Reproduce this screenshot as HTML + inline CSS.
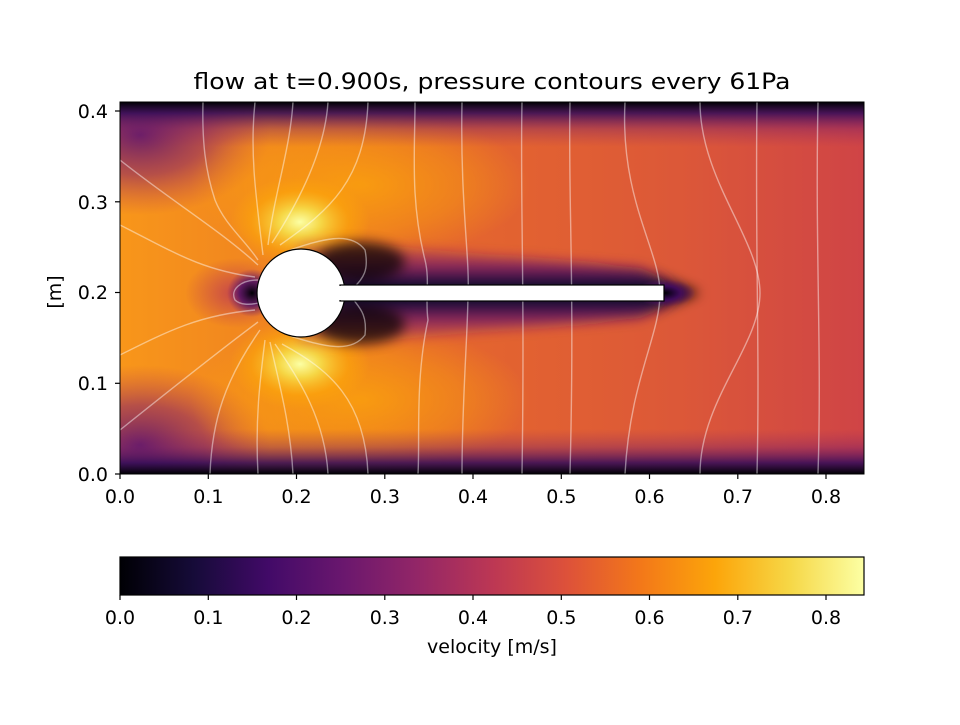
<!DOCTYPE html>
<html><head><style>
body{margin:0;background:#fff;width:960px;height:720px;overflow:hidden}
</style></head><body>
<svg width="960" height="720" xmlns="http://www.w3.org/2000/svg" font-family="DejaVu Sans, Liberation Sans, sans-serif" font-size="19">
<defs>
<clipPath id="pc"><rect x="120" y="102" width="744" height="372"/></clipPath>
<linearGradient id="bg" x1="0" x2="1" y1="0" y2="0">
<stop offset="0" stop-color="#f8961a"/><stop offset="0.2" stop-color="#f08420"/>
<stop offset="0.4" stop-color="#e6682c"/><stop offset="0.75" stop-color="#dc5838"/><stop offset="1" stop-color="#cf4446"/>
</linearGradient>
<linearGradient id="top" x1="0" x2="0" y1="0" y2="1">
<stop offset="0" stop-color="#000004"/><stop offset="0.25" stop-color="#300a5a" stop-opacity="0.85"/><stop offset="0.6" stop-color="#6a176e" stop-opacity="0.35"/><stop offset="1" stop-color="#932667" stop-opacity="0"/>
</linearGradient>
<linearGradient id="bot" x1="0" x2="0" y1="1" y2="0">
<stop offset="0" stop-color="#000004"/><stop offset="0.25" stop-color="#300a5a" stop-opacity="0.85"/><stop offset="0.6" stop-color="#6a176e" stop-opacity="0.35"/><stop offset="1" stop-color="#932667" stop-opacity="0"/>
</linearGradient>
<radialGradient id="yel"><stop offset="0" stop-color="#fcffa4"/><stop offset="0.3" stop-color="#f6d746"/><stop offset="0.7" stop-color="#fca50a" stop-opacity="0.6"/><stop offset="1" stop-color="#fca50a" stop-opacity="0"/></radialGradient>
<radialGradient id="org"><stop offset="0" stop-color="#fca50a" stop-opacity="0.8"/><stop offset="0.6" stop-color="#fca50a" stop-opacity="0.4"/><stop offset="1" stop-color="#fca50a" stop-opacity="0"/></radialGradient>
<radialGradient id="pur"><stop offset="0" stop-color="#5a1270" stop-opacity="0.9"/><stop offset="0.5" stop-color="#8a2266" stop-opacity="0.6"/><stop offset="1" stop-color="#bc3754" stop-opacity="0"/></radialGradient>
<radialGradient id="red"><stop offset="0" stop-color="#bc3754" stop-opacity="0.8"/><stop offset="1" stop-color="#bc3754" stop-opacity="0"/></radialGradient>
<radialGradient id="dk"><stop offset="0" stop-color="#000004"/><stop offset="0.5" stop-color="#420a68" stop-opacity="0.8"/><stop offset="1" stop-color="#6a176e" stop-opacity="0"/></radialGradient>
<linearGradient id="wake" x1="0" x2="0" y1="0" y2="1">
<stop offset="0" stop-color="#932667" stop-opacity="0"/><stop offset="0.25" stop-color="#6a176e" stop-opacity="0.7"/><stop offset="0.4" stop-color="#1a0b3c"/><stop offset="0.5" stop-color="#000004"/><stop offset="0.6" stop-color="#1a0b3c"/><stop offset="0.75" stop-color="#6a176e" stop-opacity="0.7"/><stop offset="1" stop-color="#932667" stop-opacity="0"/>
</linearGradient>
<filter id="bl2" filterUnits="userSpaceOnUse" x="100" y="100" width="800" height="400"><feGaussianBlur stdDeviation="6"/></filter>
<linearGradient id="cb" x1="0" x2="1">
<stop offset="0" stop-color="#000004"/><stop offset="0.1" stop-color="#160b39"/><stop offset="0.2" stop-color="#420a68"/><stop offset="0.3" stop-color="#6a176e"/><stop offset="0.4" stop-color="#932667"/><stop offset="0.5" stop-color="#bc3754"/><stop offset="0.6" stop-color="#dd513a"/><stop offset="0.7" stop-color="#f37819"/><stop offset="0.8" stop-color="#fca50a"/><stop offset="0.9" stop-color="#f6d746"/><stop offset="1" stop-color="#fcffa4"/>
</linearGradient>
</defs>
<text x="492" y="89" text-anchor="middle" font-size="22.5" textLength="597" lengthAdjust="spacingAndGlyphs">flow at t=0.900s, pressure contours every 61Pa</text>
<g clip-path="url(#pc)">
<rect x="120" y="102" width="744" height="372" fill="url(#bg)"/>
<ellipse cx="140" cy="135" rx="130" ry="80" fill="url(#pur)"/>
<ellipse cx="140" cy="445" rx="130" ry="80" fill="url(#pur)"/>
<ellipse cx="360" cy="185" rx="170" ry="75" fill="url(#org)"/>
<ellipse cx="360" cy="400" rx="170" ry="75" fill="url(#org)"/>
<rect x="120" y="102" width="744" height="45" fill="url(#top)"/>
<rect x="120" y="429" width="744" height="45" fill="url(#bot)"/>
<ellipse cx="300" cy="222" rx="70" ry="45" fill="url(#yel)"/>
<ellipse cx="300" cy="364" rx="70" ry="45" fill="url(#yel)"/>
<ellipse cx="235" cy="293" rx="50" ry="35" fill="url(#red)"/>
<ellipse cx="252" cy="293" rx="25" ry="24" fill="url(#dk)"/>
<path d="M300 238 C360 238 400 250 520 258 L640 268 L700 293 L640 318 L520 328 C400 336 360 348 300 348 Z" fill="url(#wake)" filter="url(#bl2)"/>
<ellipse cx="360" cy="262" rx="45" ry="20" fill="#000004" opacity="0.7" filter="url(#bl2)"/>
<ellipse cx="360" cy="324" rx="45" ry="20" fill="#000004" opacity="0.7" filter="url(#bl2)"/>
<ellipse cx="665" cy="293" rx="30" ry="14" fill="url(#dk)"/>
<g fill="none" stroke="#fff" stroke-opacity="0.45" stroke-width="1.4">
<path d="M203 102 C202 140 205 170 215 200 C225 225 245 240 258 260"/>
<path d="M255 102 C250 150 255 190 263 255"/>
<path d="M293 102 C290 150 275 190 268 245"/>
<path d="M328 102 C325 150 300 200 272 243"/>
<path d="M368 102 C365 180 330 210 280 245"/>
<path d="M415 102 C415 150 410 200 425 260 C430 280 425 300 428 320 C415 380 420 440 418 474"/>
<path d="M462 102 C460 200 470 260 468 293 C468 330 462 400 462 474"/>
<path d="M522 102 C520 200 525 280 522 474"/>
<path d="M570 102 C568 200 575 280 570 474"/>
<path d="M625 102 C620 200 660 250 660 293 C660 336 630 380 625 474"/>
<path d="M700 102 C700 180 760 240 760 293 C760 346 700 400 700 474"/>
<path d="M757 102 C755 250 760 350 757 474"/>
<path d="M818 102 C815 250 822 350 818 474"/>
<path d="M120 160 C170 200 220 230 258 265"/>
<path d="M120 225 C170 250 200 270 255 277"/>
<path d="M120 355 C170 330 200 315 255 310"/>
<path d="M120 430 C170 390 220 350 258 322"/>
<path d="M258 280 C240 280 230 290 235 300 C240 305 250 305 258 303"/>
<path d="M290 250 C320 240 350 230 365 250 C370 275 360 280 350 292"/>
<path d="M290 336 C320 345 350 355 365 335 C368 310 355 305 350 294"/>
<path d="M210 474 C212 420 225 380 260 330"/>
<path d="M258 474 C255 420 260 380 265 340"/>
<path d="M293 474 C290 420 278 380 270 342"/>
<path d="M328 474 C325 420 300 380 275 344"/>
<path d="M368 474 C365 400 330 370 282 344"/>
</g>
<circle cx="301" cy="293" r="44" fill="#fff" stroke="#000" stroke-width="1.2"/>
<rect x="340" y="285" width="324" height="16" fill="#fff" stroke="#000" stroke-width="1.2"/>
<rect x="336" y="286" width="10" height="14" fill="#fff"/>
</g>
<rect x="120" y="102" width="744" height="372" fill="none" stroke="#000" stroke-width="1"/>
<g stroke="#000" stroke-width="1.2">
<line x1="120" y1="474" x2="120" y2="479"/><line x1="208.3" y1="474" x2="208.3" y2="479"/><line x1="296.5" y1="474" x2="296.5" y2="479"/><line x1="384.8" y1="474" x2="384.8" y2="479"/><line x1="473" y1="474" x2="473" y2="479"/><line x1="561.3" y1="474" x2="561.3" y2="479"/><line x1="649.5" y1="474" x2="649.5" y2="479"/><line x1="737.8" y1="474" x2="737.8" y2="479"/><line x1="826" y1="474" x2="826" y2="479"/>
<line x1="115" y1="474" x2="120" y2="474"/><line x1="115" y1="383.3" x2="120" y2="383.3"/><line x1="115" y1="292.5" x2="120" y2="292.5"/><line x1="115" y1="201.8" x2="120" y2="201.8"/><line x1="115" y1="111" x2="120" y2="111"/>
</g>
<g text-anchor="middle">
<text x="120" y="503">0.0</text><text x="208.3" y="503">0.1</text><text x="296.5" y="503">0.2</text><text x="384.8" y="503">0.3</text><text x="473" y="503">0.4</text><text x="561.3" y="503">0.5</text><text x="649.5" y="503">0.6</text><text x="737.8" y="503">0.7</text><text x="826" y="503">0.8</text>
</g>
<g text-anchor="end">
<text x="108" y="481">0.0</text><text x="108" y="390">0.1</text><text x="108" y="299">0.2</text><text x="108" y="209">0.3</text><text x="108" y="118">0.4</text>
</g>
<text transform="translate(61,292) rotate(-90)" text-anchor="middle">[m]</text>
<rect x="120" y="557" width="744" height="38" fill="url(#cb)" stroke="#000" stroke-width="1.2"/>
<g stroke="#000" stroke-width="1.2">
<line x1="120" y1="595" x2="120" y2="600"/><line x1="208.3" y1="595" x2="208.3" y2="600"/><line x1="296.5" y1="595" x2="296.5" y2="600"/><line x1="384.8" y1="595" x2="384.8" y2="600"/><line x1="473" y1="595" x2="473" y2="600"/><line x1="561.3" y1="595" x2="561.3" y2="600"/><line x1="649.5" y1="595" x2="649.5" y2="600"/><line x1="737.8" y1="595" x2="737.8" y2="600"/><line x1="826" y1="595" x2="826" y2="600"/>
</g>
<g text-anchor="middle">
<text x="120" y="624">0.0</text><text x="208.3" y="624">0.1</text><text x="296.5" y="624">0.2</text><text x="384.8" y="624">0.3</text><text x="473" y="624">0.4</text><text x="561.3" y="624">0.5</text><text x="649.5" y="624">0.6</text><text x="737.8" y="624">0.7</text><text x="826" y="624">0.8</text>
<text x="492" y="653">velocity [m/s]</text>
</g>
</svg>
</body></html>
